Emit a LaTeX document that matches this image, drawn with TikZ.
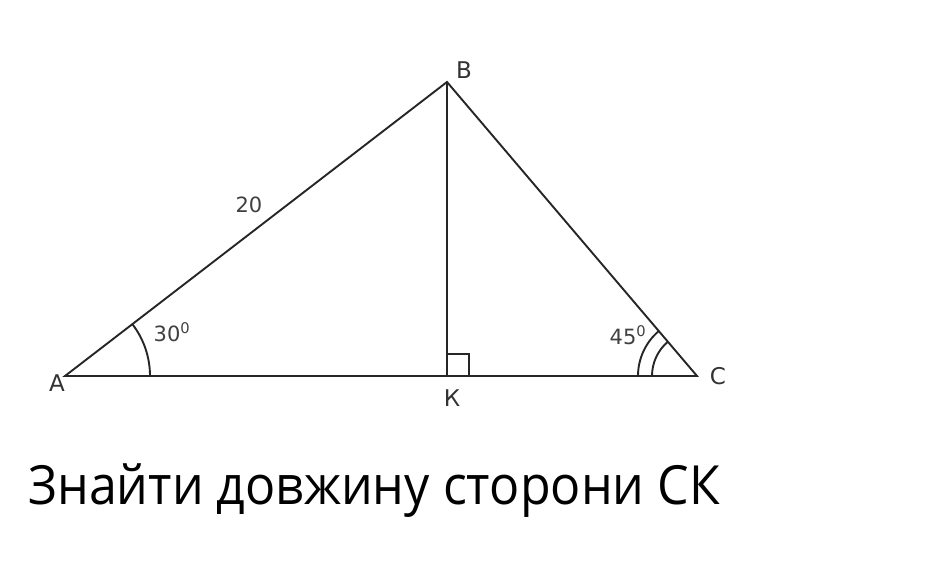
\documentclass[tikz,border=0pt]{standalone}
\usepackage{fontspec}
\setmainfont{Open Sans}
\newfontfamily\figfont{DejaVu Sans}
\usetikzlibrary{positioning}

\begin{document}
\begin{tikzpicture}[x=1pt, y=1pt, side/.style = {draw=black!85, line width=1.9pt}, lbl/.style = {inner sep=0pt, font=\figfont\fontsize{23}{23}\selectfont, text=black!80}, num/.style = {inner sep=0pt, font=\figfont\fontsize{21}{21}\selectfont, text=black!75}]
\useasboundingbox (0,0) rectangle (940,580);
\coordinate (A) at (65,204);
\coordinate (B) at (447,498);
\coordinate (K) at (447,204);
\coordinate (C) at (697,204);

\draw[side] (A) -- (B) -- (C) -- cycle;
\draw[side] (B) -- (K);
\draw[side] ([shift={(0,22)}]K) -| ([shift={(22,0)}]K);
\draw[side] ([shift={(85,0)}]A) arc[start angle=0, end angle=37.6, radius=85];
\draw[side] ([shift={(-59,0)}]C) arc[start angle=180, end angle=130.4, radius=59];
\draw[side] ([shift={(-45,0)}]C) arc[start angle=180, end angle=130.4, radius=45];

\node[lbl] (labA) at (57,197) {A};
\node[lbl] (labB) at (464,510) {B};
\node[lbl] (labK) at (452,182) {К};
\node[lbl] (labC) at (718,204) {C};
\node[num] (side) at (249,375) {20};
\node[num] (angA) at (172,248) {30\textsuperscript{0}};
\node[num] (angC) at (628,245) {45\textsuperscript{0}};

\node[anchor=base west, inner sep=0pt, xscale=0.928, transform shape, font=\fontsize{54}{54}\selectfont] (task) at (28,75) {Знайти довжину сторони СК};
\end{tikzpicture}
\end{document}
